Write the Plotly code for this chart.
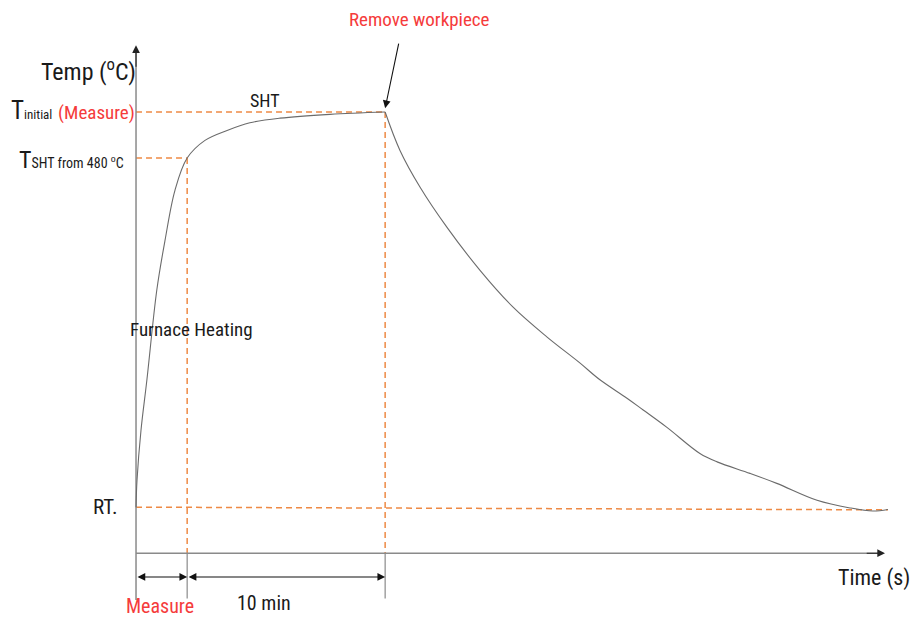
import plotly.graph_objects as go

# ---- data (time in s, temperature in degC) ----
heat_t = [0, 3, 15, 33, 63, 88, 118, 155, 209, 276, 345, 436, 588, 755]
heat_T = [25, 60, 125, 191, 308, 373, 438, 480, 503, 516, 526, 532, 537, 540]
cool_t = [755, 800, 861, 942, 1042, 1142, 1245, 1345, 1406, 1488, 1536, 1609,
          1709, 1761, 1861, 1942, 2064, 2164, 2233, 2279]
cool_T = [540, 490, 442, 390, 334, 286, 247, 213, 191, 167, 152, 129,
          95, 84, 69, 56, 34, 24, 20, 22]
T_RT = 25
T_INIT = 540
T_SHT = 480
t_measure = 155
t_remove = 755          # t_measure + 10 min
t_end = 2279
t_axis_end = 2270
T_axis_top = 627
T_axis = -35            # where the time axis sits
T_tick_bottom = -94
T_dim = -66

# axis ranges (schematic frame)
x_range = [-388, 2373]
y_range = [-126, 675.6]

FONT = "Liberation Sans Narrow, Roboto Condensed, Roboto, sans-serif"
ORANGE = "#EE8A45"
RED = "#F53B3B"
GRAY = "#8A8A8A"
CURVE = "#6B6B6B"
TXT = "#1a1a1a"

fig = go.Figure()

def line(xs, ys, color, width=1.3, dash=None, shape="linear"):
    fig.add_trace(go.Scatter(x=xs, y=ys, mode="lines", hoverinfo="skip",
                             line=dict(color=color, width=width, dash=dash, shape=shape)))

# guide lines (orange dashed)
dash = "6px,4px"
line([0, t_remove], [T_INIT, T_INIT], ORANGE, 1.5, dash)
line([0, t_measure], [T_SHT, T_SHT], ORANGE, 1.5, dash)
line([t_measure, t_measure], [T_SHT, T_axis], ORANGE, 1.5, dash)
line([t_remove, t_remove], [T_INIT, T_axis], ORANGE, 1.5, dash)
line([0, t_end], [T_RT, T_RT - 3.5], ORANGE, 1.5, dash)

# gray tick extensions below the time axis
line([t_measure, t_measure], [T_axis, T_tick_bottom], GRAY, 1.2)
line([t_remove, t_remove], [T_axis, T_tick_bottom], GRAY, 1.2)

# axes lines
line([0, 0], [T_tick_bottom - 2, T_axis_top - 8], GRAY, 1.5)
line([0, t_axis_end - 20], [T_axis, T_axis], GRAY, 1.5)

# temperature curve
line(heat_t, heat_T, CURVE, 1.1, shape="spline")
line(cool_t, cool_T, CURVE, 1.1, shape="spline")

ann = []
def arrow(x, y, ax, ay, side="end", color="#111111"):
    ann.append(dict(x=x, y=y, ax=ax, ay=ay, xref="x", yref="y", axref="x", ayref="y",
                    text="", showarrow=True, arrowhead=2, arrowsize=1.4, arrowwidth=1.1,
                    arrowcolor=color, arrowside=side, startarrowhead=2, startarrowsize=1.4))

# axis arrow heads
arrow(0, T_axis_top, 0, T_axis_top - 30, color="#222222")
arrow(t_axis_end, T_axis, t_axis_end - 60, T_axis, color="#222222")
# dimension arrows
arrow(t_measure, T_dim, 0, T_dim, side="end+start")
arrow(t_remove, T_dim, t_measure, T_dim, side="end+start")
# remove workpiece arrow
arrow(t_remove, T_INIT + 5, 797, 631)

def text(x, y, s, size, color=TXT, xanchor="center"):
    ann.append(dict(x=x, y=y, xref="x", yref="y", text=s, showarrow=False,
                    xanchor=xanchor, yanchor="middle",
                    font=dict(family=FONT, size=size, color=color)))

text(-145, 595, "Temp (<sup>o</sup>C)", 24, xanchor="center")
text(-384, T_INIT + 2,
     "T<span style='font-size:13px'>initial</span> <span style='color:%s;font-size:19px'>(Measure)</span>" % RED,
     25, xanchor="left")
text(-362, T_SHT - 3,
     "T<span style='font-size:14px'>SHT from 480 </span><span style='font-size:14px'><sup>o</sup>C</span>",
     24, xanchor="left")
text(390, 555, "SHT", 18)
text(168, 257, "Furnace Heating", 19)
text(-94, T_RT, "RT.", 21)
text(860, 661, "Remove workpiece", 19, color=RED)
text(72, -104, "Measure", 20, color=RED)
text(388, -100, "10 min", 20)
text(2238, -67, "Time (s)", 22)

fig.update_layout(
    annotations=ann,
    width=911, height=615,
    margin=dict(l=0, r=0, t=0, b=0),
    showlegend=False,
    paper_bgcolor="white", plot_bgcolor="white",
    xaxis=dict(range=x_range, visible=False, fixedrange=True),
    yaxis=dict(range=y_range, visible=False, fixedrange=True),
)

fig.write_html("out.html")
